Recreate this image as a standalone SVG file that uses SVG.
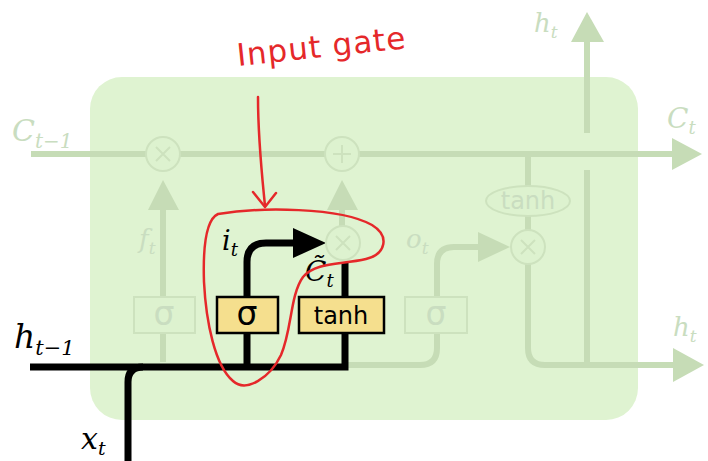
<svg xmlns="http://www.w3.org/2000/svg" width="708" height="461" viewBox="0 0 708 461">
<style>
.fl{fill:none;stroke:#c6dcb6;stroke-width:6}
.fa{fill:#c6dcb6}
.fc{fill:#ddf2cf;stroke:#cde2be;stroke-width:2}
.fcx{fill:none;stroke:#cde2be;stroke-width:2}
.bl{fill:none;stroke:#000;stroke-width:7}
.box{fill:#f5df8e;stroke:#000;stroke-width:2.5}
.fbox{fill:#ddf2cf;stroke:#cde2be;stroke-width:2}
.m{font-family:"DejaVu Serif","Liberation Serif",serif;font-style:italic}
.ml{fill:#c9ddc0}
.s{font-family:"DejaVu Sans","Liberation Sans",sans-serif;font-size:24px;text-anchor:middle}
.sg{font-size:33px}
.red{fill:none;stroke:#e5282a;stroke-width:2.5;stroke-linecap:round;stroke-linejoin:round}
</style>
<rect width="708" height="461" fill="#fff"/>
<g id="cell"><rect x="90" y="77" width="548" height="343" rx="32" fill="#dff3d1"/></g>
<g id="connectors">
<path class="fl" d="M31,154 H675"/>
<polygon class="fa" points="672,138 702,154 672,170"/>
<path class="fl" d="M163,362 V208"/>
<polygon class="fa" points="148,210 163,180 179,210"/>
<path class="fl" d="M342,226 V208"/>
<polygon class="fa" points="327,210 342,180 358,210"/>
<path class="fl" d="M345,365 H420 Q437,365 437,348 V264 Q437,247 454,247 H482"/>
<polygon class="fa" points="478,232 510,247 478,262"/>
<path class="fl" d="M528,154 V186 M528,216 V230"/>
<path class="fl" d="M528,264 V348 Q528,365 545,365 H676"/>
<polygon class="fa" points="673,348 704,365 673,382"/>
<path class="fl" d="M587,365 V170 M587,133 V40"/>
<polygon class="fa" points="571,42 587,12 604,42"/>
<path class="bl" d="M30,367 H345 V262"/>
<path class="bl" d="M128,461 V382 Q128,367 143,367"/>
<path class="bl" d="M247,367 V262 Q247,243 266,243 H298"/>
<polygon points="293,228 326,243 293,258" fill="#000"/>
</g>
<g id="mul_f"><circle class="fc" cx="163" cy="154" r="17"/><path class="fcx" d="M156,147 L170,161 M170,147 L156,161"/></g>
<g id="add_c"><circle class="fc" cx="342" cy="154" r="17"/><path class="fcx" d="M342,145 V163 M333,154 H351"/></g>
<g id="mul_i"><circle class="fc" cx="343" cy="243" r="17"/><path class="fcx" d="M336,236 L350,250 M350,236 L336,250"/></g>
<g id="mul_o"><circle class="fc" cx="528" cy="247" r="17"/><path class="fcx" d="M521,240 L535,254 M535,240 L521,254"/></g>
<g id="tanh_out"><ellipse class="fc" cx="528" cy="201" rx="42" ry="15"/><text class="s" x="528" y="209" fill="#c9ddc0">tanh</text></g>
<g id="sigma_f"><rect class="fbox" x="134" y="297" width="61" height="36"/><text class="s sg" x="164" y="325" fill="#c9ddc0">σ</text></g>
<g id="sigma_i"><rect class="box" x="217" y="297" width="61" height="36"/><text class="s sg" x="247" y="325" fill="#000">σ</text></g>
<g id="tanh_c"><rect class="box" x="299" y="297" width="85" height="36"/><text class="s" x="341" y="324" fill="#000">tanh</text></g>
<g id="sigma_o"><rect class="fbox" x="405" y="297" width="62" height="36"/><text class="s sg" x="436" y="325" fill="#c9ddc0">σ</text></g>
<g id="labels">
<text class="m ml" x="12" y="141" font-size="30">C<tspan font-size="20" dy="7">t−1</tspan></text>
<text class="m ml" x="667" y="128" font-size="28">C<tspan font-size="18" dy="6">t</tspan></text>
<text class="m ml" x="534" y="32" font-size="26">h<tspan font-size="17" dy="6">t</tspan></text>
<text class="m ml" x="673" y="336" font-size="26">h<tspan font-size="17" dy="6">t</tspan></text>
<text class="m ml" x="139" y="248" font-size="26">f<tspan font-size="17" dy="6">t</tspan></text>
<text class="m ml" x="406" y="248" font-size="26">o<tspan font-size="17" dy="6">t</tspan></text>
<text class="m" x="222" y="250" font-size="27" fill="#000">i<tspan font-size="18" dy="6">t</tspan></text>
<text class="m" x="305" y="281" font-size="28" fill="#000">C̃<tspan font-size="18" dy="6">t</tspan></text>
<text class="m" x="14" y="348" font-size="33" fill="#000">h<tspan font-size="21" dy="7">t−1</tspan></text>
<text class="m" x="81" y="449" font-size="30" fill="#000">x<tspan font-size="19" dy="6">t</tspan></text>
</g>
<g id="annotation">
<text x="238" y="66" font-family="DejaVu Sans, sans-serif" font-size="31" letter-spacing="1" fill="#e5282a" transform="rotate(-6 238 66)">Input gate</text>
<path class="red" d="M258,97 C258,140 262,175 265,206"/>
<path class="red" d="M253,192 L265,207 L276,193"/>
<path class="red" d="M218,214 C260,207 340,207 372,225 C390,236 386,254 366,259 C340,265 316,262 303,277 C290,295 292,330 281,355 C270,378 246,393 233,381 C215,366 206,322 204,282 C203,252 205,220 218,214 Z"/>
</g>
</svg>
